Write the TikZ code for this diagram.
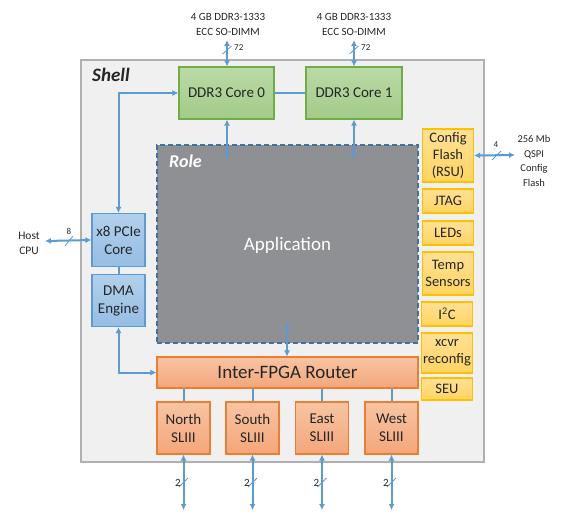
\documentclass[tikz,border=0pt]{standalone}
\usepackage{fontspec}
\setmainfont{Carlito}
\usetikzlibrary{arrows.meta}
\definecolor{shellfill}{HTML}{F0F0F0}
\definecolor{shellline}{HTML}{B0B0B0}
\definecolor{rolefill}{HTML}{8F9094}
\definecolor{roleline}{HTML}{41719C}
\definecolor{conncol}{HTML}{5B9BD5}
\definecolor{txt}{HTML}{262626}
\definecolor{gline}{HTML}{70AD47}
\definecolor{gtop}{HTML}{BADAA6}
\definecolor{gbot}{HTML}{A2CB88}
\definecolor{bline}{HTML}{5B9BD5}
\definecolor{btop}{HTML}{B2D0EC}
\definecolor{bbot}{HTML}{96BDE3}
\definecolor{oline}{HTML}{ED7D31}
\definecolor{otop}{HTML}{F8C4A3}
\definecolor{obot}{HTML}{F3A67A}
\definecolor{yline}{HTML}{FFC000}
\definecolor{ytop}{HTML}{FFE195}
\definecolor{ybot}{HTML}{FFD460}
\tikzset{
  basebox/.style={rectangle, inner sep=0pt, align=center, text=txt, line width=1.1pt, font=\fontsize{15}{18}\selectfont},
  gbox/.style={basebox, draw=gline, top color=gtop, bottom color=gbot},
  bbox/.style={basebox, draw=bline, top color=btop, bottom color=bbot},
  obox/.style={basebox, draw=oline, top color=otop, bottom color=obot},
  ybox/.style={basebox, draw=yline, top color=ytop, bottom color=ybot, minimum width=51pt, font=\fontsize{14.5}{16.8}\selectfont},
  conn/.style={draw=conncol, line width=2pt},
  biarrow/.style={conn, {Latex[length=6pt,width=6pt]}-{Latex[length=6pt,width=6pt]}},
  toarrow/.style={conn, -{Latex[length=6pt,width=6pt]}},
  slashmark/.style={draw=conncol, line width=0.8pt},
  smalllbl/.style={text=txt, align=center, inner sep=0pt, font=\fontsize{11}{14.5}\selectfont},
  numlbl/.style={text=txt, inner sep=0pt, font=\fontsize{9}{10}\selectfont},
}
\begin{document}
\begin{tikzpicture}[x=1pt,y=-1pt]
\useasboundingbox (0,0) rectangle (580,523);
% shell
\node[draw=shellline, fill=shellfill, line width=1.2pt, minimum width=403pt, minimum height=402pt, inner sep=0pt] (shell) at (282.5,261) {};
\node[anchor=west, inner sep=0pt, text=txt, font=\fontsize{19}{20}\selectfont\bfseries\itshape] (shelllbl) at (92,75) {Shell};
% role
\node[draw=roleline, fill=rolefill, dashed, dash pattern=on 5pt off 3pt, line width=2pt, minimum width=261pt, minimum height=198pt, inner sep=0pt] (role) at (287.5,244) {};
\node[anchor=west, inner sep=0pt, text=white, font=\fontsize{18}{20}\selectfont\bfseries\itshape] (rolelbl) at (169,161) {Role};
\node[inner sep=0pt, text=white, font=\fontsize{19}{22}\selectfont] (app) at (287.5,245) {Application};
% DDR cores
\node[gbox, minimum width=95pt, minimum height=52pt] (core0) at (226.5,93) {DDR3 Core 0};
\node[gbox, minimum width=96pt, minimum height=52pt] (core1) at (354,93) {DDR3 Core 1};
% PCIe, DMA
\node[bbox, minimum width=53pt, minimum height=53pt] (pcie) at (118.5,240) {x8 PCIe\\Core};
\node[bbox, minimum width=53pt, minimum height=52pt] (dma) at (118.5,300.5) {DMA\\Engine};
% router
\node[obox, minimum width=261pt, minimum height=31pt, font=\fontsize{19}{22}\selectfont] (router) at (287.5,372.5) {Inter-FPGA Router};
% SLIII
\node[obox, minimum width=53pt, minimum height=52pt] (north) at (183.5,428) {North\\SLIII};
\node[obox, minimum width=53pt, minimum height=52pt] (south) at (252.5,428) {South\\SLIII};
\node[obox, minimum width=53pt, minimum height=52pt] (east) at (322,428) {East\\SLIII};
\node[obox, minimum width=53pt, minimum height=52pt] (west) at (391.5,428) {West\\SLIII};
% right column
\node[ybox, minimum height=53pt] (cfg) at (448,155.5) {Config\\Flash\\(RSU)};
\node[ybox, minimum height=24pt] (jtag) at (448,201) {JTAG};
\node[ybox, minimum height=24pt] (leds) at (448,233) {LEDs};
\node[ybox, minimum height=43pt] (temp) at (448,273.5) {Temp\\Sensors};
\node[ybox, minimum height=24pt] (i2c) at (447,314) {I\textsuperscript{2}C};
\node[ybox, minimum height=40pt] (xcvr) at (447,353) {xcvr\\reconfig};
\node[ybox, minimum height=22pt] (seu) at (447,389) {SEU};
% external labels
\node[smalllbl] (dimm0) at (228,24.5) {4 GB DDR3-1333\\ECC SO-DIMM};
\node[smalllbl] (dimm1) at (354,24.5) {4 GB DDR3-1333\\ECC SO-DIMM};
\node[smalllbl, font=\fontsize{11.5}{15}\selectfont] (host) at (29,243.5) {Host\\CPU};
\node[smalllbl, font=\fontsize{10.5}{14.5}\selectfont] (qspi) at (534,161) {256 Mb\\QSPI\\Config\\Flash};
% coordinates
\coordinate (d0end) at (227,40);
\coordinate (d1end) at (354,40);
\coordinate (r0) at (227,159);
\coordinate (r1) at (354,159);
\coordinate (hostend) at (45,241);
\coordinate (qspiend) at (515,155);
\coordinate (roleout) at (287,322);
\coordinate (nend) at (183.5,510);
\coordinate (send) at (252.5,510);
\coordinate (eend) at (322,510);
\coordinate (wend) at (391.5,510);
% connectors
\draw[biarrow] (core0.north -| d0end) -- (d0end);
\draw[biarrow] (core1.north -| d1end) -- (d1end);
\draw[biarrow] (core0.south -| r0) -- (r0);
\draw[biarrow] (core1.south -| r1) -- (r1);
\draw[conn] (core0.east) -- (core1.west);
\draw[biarrow] (pcie.north) |- (core0.west);
\draw[conn] (pcie.south) -- (dma.north);
\draw[biarrow] (dma.south) |- (router.west);
\draw[biarrow] (hostend) -- (pcie.west);
\draw[biarrow] (cfg.east) -- (qspiend);
\draw[biarrow] (roleout) -- (router.north -| roleout);
\draw[conn] (router.south -| north.north) -- (north.north);
\draw[conn] (router.south -| south.north) -- (south.north);
\draw[conn] (router.south -| east.north) -- (east.north);
\draw[conn] (router.south -| west.north) -- (west.north);
\draw[biarrow] (north.south) -- (nend);
\draw[biarrow] (south.south) -- (send);
\draw[biarrow] (east.south) -- (eend);
\draw[biarrow] (west.south) -- (wend);
% bus width marks
\draw[slashmark] (222.5,54) -- (231.5,46);
\node[numlbl, anchor=west] (n72a) at (234,48) {72};
\draw[slashmark] (349.5,54) -- (358.5,46);
\node[numlbl, anchor=west] (n72b) at (361,48) {72};
\draw[slashmark] (65,246) -- (73,236);
\node[numlbl] (n8) at (69,231) {8};
\draw[slashmark] (492,160) -- (501,151);
\node[numlbl] (n4) at (496,145) {4};
\foreach \x/\n in {183.5/a,252.5/b,322/c,391.5/d}{
  \draw[slashmark] (\x-4.5,487) -- (\x+4.5,478);
  \node[numlbl, font=\fontsize{11}{12}\selectfont, anchor=east] (two\n) at (\x-2.5,483) {2};
}
\end{tikzpicture}
\end{document}
